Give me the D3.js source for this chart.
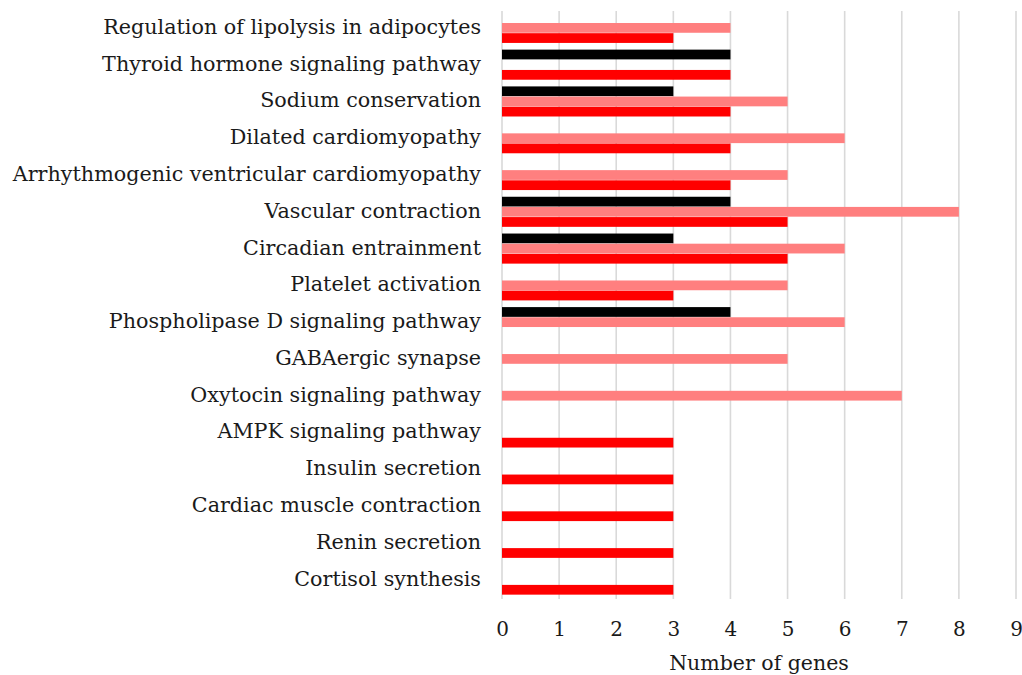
<!DOCTYPE html>
<html>
<head>
<meta charset="utf-8">
<script src="https://cdn.jsdelivr.net/npm/d3@7"></script>
<style>
  html, body { margin: 0; padding: 0; background: #fff; }
  svg { display: block; }
  text { font-family: "DejaVu Serif", "Liberation Serif", serif; fill: #1a1a1a; }
</style>
</head>
<body>
<svg id="chart" width="1022" height="675"></svg>
<script>
// Pathway categories, listed top to bottom
const categories = [
  "Regulation of lipolysis in adipocytes",
  "Thyroid hormone signaling pathway",
  "Sodium conservation",
  "Dilated cardiomyopathy",
  "Arrhythmogenic ventricular cardiomyopathy",
  "Vascular contraction",
  "Circadian entrainment",
  "Platelet activation",
  "Phospholipase D signaling pathway",
  "GABAergic synapse ",
  "Oxytocin signaling pathway",
  "AMPK signaling pathway",
  "Insulin secretion",
  "Cardiac muscle contraction",
  "Renin secretion",
  "Cortisol synthesis"
];

// Gene counts per series (one value per category)
const seriesBlack = [0, 4, 3, 0, 0, 4, 3, 0, 4, 0, 0, 0, 0, 0, 0, 0];
const seriesPink  = [4, 0, 5, 6, 5, 8, 6, 5, 6, 5, 7, 0, 0, 0, 0, 0];
const seriesRed   = [3, 4, 4, 4, 4, 5, 5, 3, 0, 0, 0, 3, 3, 3, 3, 3];

const seriesKeys = ["black", "pink", "red"];
const seriesColors = { black: "#000000", pink: "#ff7f7f", red: "#ff0000" };
const seriesValues = { black: seriesBlack, pink: seriesPink, red: seriesRed };

const xTicks = [0, 1, 2, 3, 4, 5, 6, 7, 8, 9];
const xTitle = "Number of genes";

const svg = d3.select("#chart");

const plotLeft = 502, plotRight = 1016;
const plotTop = 9.5, plotBottom = 598;

const x = d3.scaleLinear().domain([0, 9]).range([plotLeft, plotRight]);
const y = d3.scaleBand().domain(categories).range([plotTop, plotBottom])
  .paddingInner(0.16).paddingOuter(0.08);
const ySub = d3.scaleBand().domain(seriesKeys).range([0, y.bandwidth()]).padding(0.04);

// Vertical gridlines
svg.append("g")
  .selectAll("line")
  .data(xTicks)
  .join("line")
  .attr("x1", d => x(d)).attr("x2", d => x(d))
  .attr("y1", 11).attr("y2", 599)
  .attr("stroke", "#d9d9d9")
  .attr("stroke-width", 1.6);

// Bars
const rows = categories.map((c, i) => ({
  cat: c,
  values: seriesKeys.map(k => ({ key: k, value: seriesValues[k][i] }))
}));

svg.append("g")
  .selectAll("g")
  .data(rows)
  .join("g")
  .attr("transform", d => `translate(0,${y(d.cat)})`)
  .selectAll("rect")
  .data(d => d.values.filter(v => v.value > 0))
  .join("rect")
  .attr("x", x(0))
  .attr("y", d => ySub(d.key))
  .attr("width", d => x(d.value) - x(0))
  .attr("height", ySub.bandwidth())
  .attr("fill", d => seriesColors[d.key]);

// Category labels
svg.append("g")
  .selectAll("text")
  .data(categories)
  .join("text")
  .attr("x", 481)
  .attr("y", d => y(d) + y.bandwidth() / 2 + 0.5)
  .attr("text-anchor", "end")
  .attr("dominant-baseline", "middle")
  .attr("font-size", 20.7)
  .text(d => d);

// X axis tick labels
const xAxis = d3.axisBottom(x).tickValues(xTicks).tickSize(0).tickFormat(d3.format("d"));
const gx = svg.append("g")
  .attr("transform", "translate(0,619)")
  .call(xAxis);
gx.select(".domain").remove();
gx.selectAll("text")
  .attr("font-size", 20)
  .attr("fill", "#1a1a1a")
  .style("font-family", "\"DejaVu Serif\", serif");

// Axis title
svg.append("text")
  .attr("x", (plotLeft + plotRight) / 2)
  .attr("y", 670)
  .attr("text-anchor", "middle")
  .attr("font-size", 20.5)
  .text(xTitle);
</script>
</body>
</html>
